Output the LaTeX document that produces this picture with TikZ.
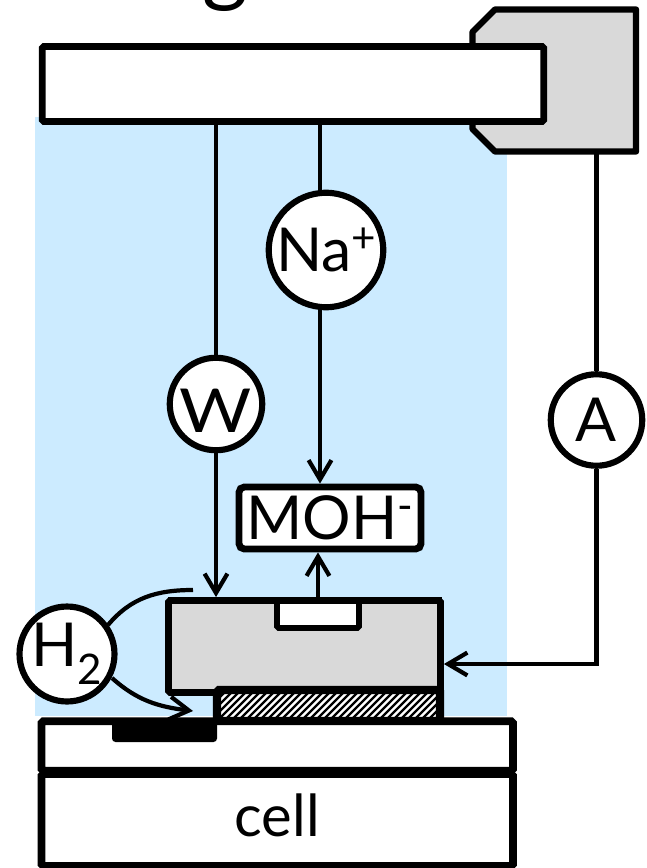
\documentclass[tikz,border=0pt]{standalone}
\usepackage{fontspec}
\setmainfont{Lato}
\usetikzlibrary{arrows.meta}
\definecolor{waterblue}{HTML}{CCEBFF}
\definecolor{blockgray}{HTML}{D9D9D9}
\newcommand{\lowtxt}[1]{\raisebox{-0.3em}{\fontsize{24}{24}\selectfont #1}}
\newcommand{\hightxt}[1]{\raisebox{0.31em}{\fontsize{24}{24}\selectfont #1}}
\tikzset{
    >={Straight Barb[length=11pt,width=13pt]},
    wire/.style={line width=2.4pt},
    species/.style={circle, draw, fill=white, line width=3.5pt, inner sep=0pt, font=\fontsize{34.5}{36}\selectfont},
    solid part/.style={rectangle, draw, inner sep=0pt, line width=3.9pt, rounded corners=1pt},
}
\begin{document}
\begin{tikzpicture}[x=0.02cm, y=-0.02cm, font=\fontsize{33}{33}\selectfont]
    \useasboundingbox (0,0) rectangle (646,868);
    \fill[waterblue] (35,117) rectangle (507,716);
    \node[anchor=base] (title) at (225,-4) {\fontsize{50}{50}\selectfont g};
    \draw[line width=3.6pt, fill=blockgray, line join=round] (472.5,32) -- (495,9.5) -- (636,9.5) -- (636,151.5) -- (495,151.5) -- (472.5,129) -- cycle;
    \node[solid part, fill=white, minimum width=10.03cm, minimum height=1.5cm] (bar) at (293,84) {};
    \node[species, minimum size=1.85cm, text height=1.14cm] (w) at (216,404) {\scalebox{1.15}[1]{W}};
    \node[species, minimum size=2.29cm] (na) at (326,250) {Na\hightxt{+}};
    \node[species, minimum size=1.83cm] (a) at (596.5,420) {A};
    \node[species, minimum size=1.9cm] (h) at (67,654) {H\lowtxt{2}};
    \node[solid part, fill=white, rounded corners=3pt, font=\fontsize{34.5}{36}\selectfont, minimum width=3.64cm, minimum height=1.24cm] (moh) at (330,518) {MOH\hightxt{-}};
    \node[solid part, fill=blockgray, minimum width=5.44cm, minimum height=1.84cm] (block) at (304.5,646.5) {};
    \node[solid part, fill=white, line width=3.4pt, minimum width=1.64cm, minimum height=0.56cm] (notch) at (318,614) {};
    \fill[white] (280,604.5) rectangle (356,625);
    \fill (168,597) rectangle (442,604);
    \node[solid part, fill=white, line width=4.6pt, minimum width=4.46cm, minimum height=0.62cm] (film) at (328.5,705.5) {};
    \begin{scope}
        \clip (221,694) rectangle (436,717);
        \foreach \hx in {190,197,...,436}
            \draw[line width=1.35pt] (\hx,720) -- ++(30,-30);
    \end{scope}
    \node[solid part, fill=white, line width=4.4pt, minimum width=9.43cm, minimum height=0.99cm] (chip) at (277.3,746) {};
    \node[solid part, fill=white, line width=4.4pt, text depth=0.2cm, minimum width=9.43cm, minimum height=1.84cm] (cell) at (277.3,820) {cell};
    \fill[rounded corners=2pt] (112,719) rectangle (217,742);
    \coordinate (pad) at (193,711);
    \coordinate (hend) at (193,590);
    \draw[wire] (bar.south -| w) -- (w);
    \draw[wire, ->] (w) -- (w |- block.north);
    \draw[wire] (bar.south -| 320,0) -- (na.north -| 320,0);
    \draw[wire, ->] (na.south -| 320,0) -- (moh.north -| 320,0);
    \draw[wire, ->] (notch.north) -- (moh.south -| notch);
    \draw[wire] (a |- 0,152) -- (a);
    \draw[wire, ->] (a) |- (block.east |- 0,664);
    \draw[wire] (h) ++(41,-29) to[out=50, in=180] (hend);
    \draw[wire, ->] (h) ++(45,24) to[out=-42, in=173] (pad);
\end{tikzpicture}
\end{document}
